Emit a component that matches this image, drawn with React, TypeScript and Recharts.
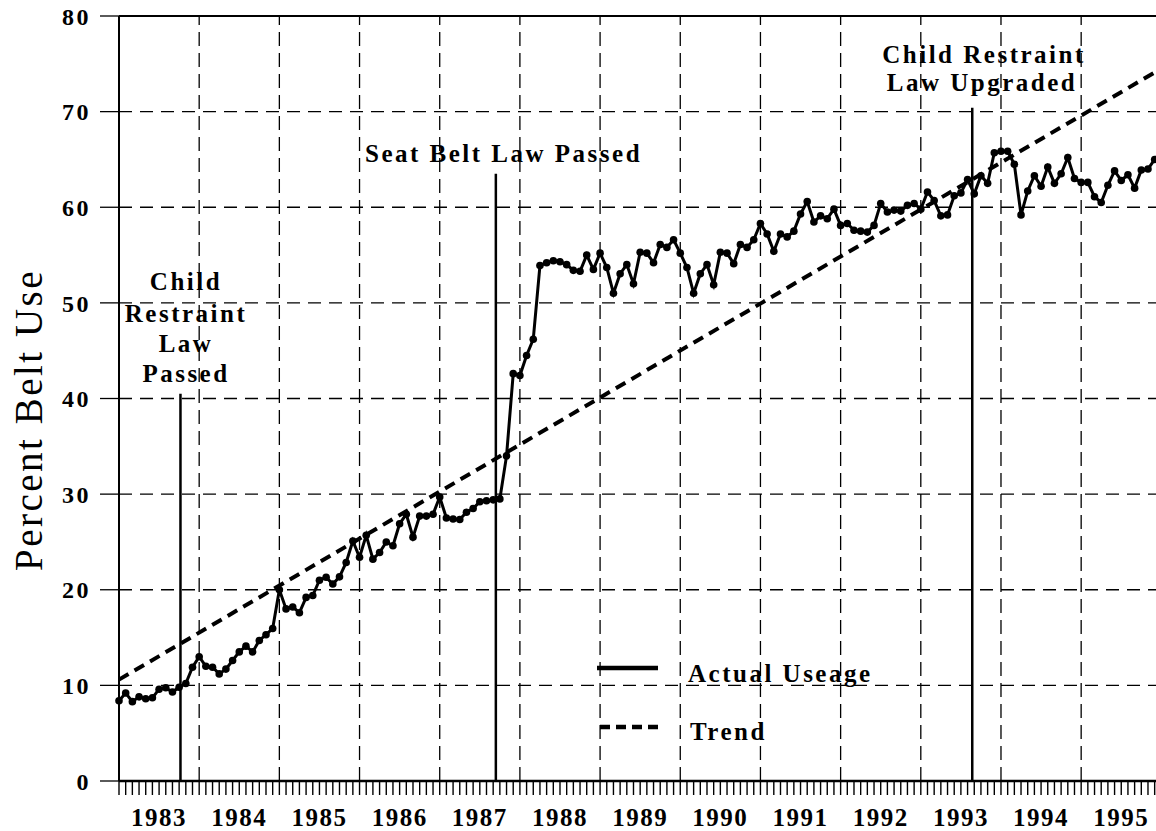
import React from 'react';
import { CartesianGrid, Line, LineChart, ReferenceLine, XAxis, YAxis } from 'recharts';

const FONT = '"Liberation Serif", "Times New Roman", serif';
const INK = '#000';

// monthly percent belt use, Jan 1983 onwards (one value per month)
const beltUse = [
  8.4, 9.2, 8.3, 8.8, 8.6, 8.7, 9.6, 9.75, 9.3, 9.8, 10.2, 11.9,
  13.0, 12.0, 11.9, 11.2, 11.7, 12.6, 13.5, 14.1, 13.5, 14.7, 15.3, 15.95,
  20.0, 18.0, 18.2, 17.6, 19.2, 19.4, 21.0, 21.3, 20.6, 21.35, 22.85, 25.1,
  23.4, 25.7, 23.2, 23.9, 25.0, 24.6, 26.9, 27.9, 25.5, 27.7, 27.7, 27.9,
  29.7, 27.5, 27.4, 27.35, 28.1, 28.5, 29.2, 29.3, 29.4, 29.5, 34.0, 42.6,
  42.4, 44.5, 46.2, 53.9, 54.2, 54.4, 54.3, 54.0, 53.4, 53.3, 55.0, 53.5,
  55.2, 53.7, 51.0, 53.05, 54.0, 52.0, 55.3, 55.2, 54.2, 56.1, 55.8, 56.6,
  55.2, 53.7, 51.0, 53.05, 54.0, 51.9, 55.3, 55.2, 54.1, 56.1, 55.8, 56.6,
  58.3, 57.2, 55.4, 57.2, 56.9, 57.5, 59.3, 60.6, 58.45, 59.1, 58.8, 59.8,
  58.1, 58.3, 57.6, 57.5, 57.4, 58.1, 60.4, 59.5, 59.7, 59.6, 60.2, 60.4,
  59.8, 61.6, 60.7, 59.1, 59.2, 61.2, 61.5, 62.9, 61.4, 63.3, 62.5, 65.7,
  65.85, 65.85, 64.5, 59.2, 61.7, 63.3, 62.2, 64.2, 62.5, 63.5, 65.2, 63.0,
  62.6, 62.6, 61.1, 60.5, 62.3, 63.8, 62.8, 63.4, 62.0, 63.9, 64.0, 65.0,
];

// trend line read at first and last month
const trendEnds = [10.6, 74.1];

const yearLabels = ['1983', '1984', '1985', '1986', '1987', '1988', '1989', '1990', '1991', '1992', '1993', '1994', '1995'];
const yearStarts = [12, 24, 36, 48, 60, 72, 84, 96, 108, 120, 132, 144];
const yTicks = [0, 10, 20, 30, 40, 50, 60, 70, 80];
const months = beltUse.map((_, i) => i);

// law changes: month index and how high the marker line goes
const events = [
  { month: 9.2, top: 40.5 },
  { month: 56.4, top: 63.5 },
  { month: 127.7, top: 70.4 },
];

const data = beltUse.map((v, i) => ({
  m: i,
  actual: v,
  trend: i === 0 ? trendEnds[0] : i === beltUse.length - 1 ? trendEnds[1] : null,
}));

function YearTick({ x, y, payload }: any) {
  const v = payload.value;
  if (v % 12 !== 6) return <g />;
  return (
    <text x={x} y={y} dy={29} textAnchor="middle" fill={INK} fontFamily={FONT} fontSize={25} fontWeight="bold" letterSpacing={1.5}>
      {yearLabels[(v - 6) / 12]}
    </text>
  );
}

function PctTick({ x, y, payload }: any) {
  return (
    <text x={x} y={y} dy="0.36em" textAnchor="end" fill={INK} fontFamily={FONT} fontSize={24} fontWeight="bold" letterSpacing={2.5}>
      {payload.value}
    </text>
  );
}

const label = { fill: INK, fontFamily: FONT, fontSize: 25, fontWeight: 'bold' as const, letterSpacing: 2.5 };

export default function App() {
  return (
    <div style={{ position: 'absolute', left: 0, top: 0, width: 1156, height: 831, background: '#fff' }}>
      <LineChart width={1156} height={831} data={data} margin={{ top: 16, right: 0, left: 0, bottom: 0 }}>
        <CartesianGrid vertical={false} stroke={INK} strokeWidth={1.3} strokeDasharray="13 8" />
        <XAxis
          dataKey="m"
          type="number"
          domain={[0, 155.2]}
          ticks={months}
          interval={0}
          height={50}
          tickSize={14}
          tickMargin={2}
          tick={<YearTick />}
          tickLine={{ stroke: INK, strokeWidth: 1.4 }}
          axisLine={{ stroke: INK, strokeWidth: 2.5 }}
        />
        <YAxis
          domain={[0, 80]}
          ticks={yTicks}
          interval={0}
          width={119}
          tickSize={19}
          tickMargin={9}
          tick={<PctTick />}
          tickLine={{ stroke: INK, strokeWidth: 1.3 }}
          axisLine={{ stroke: INK, strokeWidth: 2 }}
        />
        {yearStarts.map((m) => (
          <ReferenceLine key={m} x={m} stroke={INK} strokeWidth={1.3} strokeDasharray="14 7" />
        ))}
        <ReferenceLine y={80} stroke={INK} strokeWidth={2} />
        {events.map((e) => (
          <ReferenceLine
            key={e.month}
            segment={[
              { x: e.month, y: 0 },
              { x: e.month, y: e.top },
            ]}
            stroke={INK}
            strokeWidth={2.5}
          />
        ))}
        <Line
          dataKey="trend"
          connectNulls
          stroke={INK}
          strokeWidth={4}
          strokeDasharray="11 7"
          dot={false}
          isAnimationActive={false}
        />
        <Line
          dataKey="actual"
          stroke={INK}
          strokeWidth={3}
          dot={{ r: 3.8, fill: INK, stroke: INK, strokeWidth: 0 }}
          isAnimationActive={false}
        />
      </LineChart>

      <svg width={1156} height={831} style={{ position: 'absolute', left: 0, top: 0, pointerEvents: 'none' }}>
        <text
          x={42}
          y={420}
          transform="rotate(-90 42 420)"
          textAnchor="middle"
          fill={INK}
          fontFamily={FONT}
          fontSize={39}
          letterSpacing={2.5}
        >
          Percent Belt Use
        </text>

        <text {...label} x={186} y={290} textAnchor="middle">Child</text>
        <text {...label} x={186} y={322} textAnchor="middle">Restraint</text>
        <text {...label} x={186} y={352} textAnchor="middle">Law</text>
        <text {...label} x={186} y={382} textAnchor="middle">Passed</text>

        <text {...label} x={365} y={162}>Seat Belt Law Passed</text>

        <text {...label} x={984} y={63} textAnchor="middle">Child Restraint</text>
        <text {...label} x={982} y={91} textAnchor="middle">Law Upgraded</text>

        <line x1={597} x2={658} y1={668} y2={668} stroke={INK} strokeWidth={4.5} />
        <text {...label} x={688} y={682}>Actual Useage</text>
        <line x1={600} x2={658} y1={727} y2={727} stroke={INK} strokeWidth={4.5} strokeDasharray="10 6" />
        <text {...label} x={690} y={740}>Trend</text>
      </svg>
    </div>
  );
}
